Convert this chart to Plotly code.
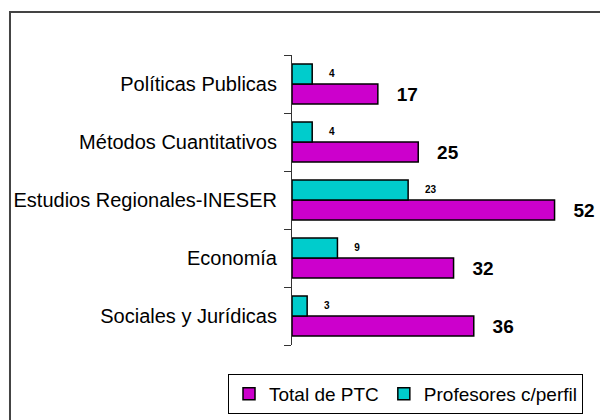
import plotly.graph_objects as go

categories = ["Políticas Publicas", "Métodos Cuantitativos", "Estudios Regionales-INESER",
              "Economía", "Sociales y Jurídicas"]
total_ptc = [17, 25, 52, 32, 36]
profesores_perfil = [4, 4, 23, 9, 3]

FONT = "Arial, Liberation Sans, sans-serif"
NB = "\u00a0"

fig = go.Figure()
fig.add_trace(go.Bar(
    name="Total de PTC", y=categories, x=total_ptc, orientation="h",
    marker=dict(color="#CC00CC", line=dict(color="black", width=1.5)),
    text=total_ptc, texttemplate=NB * 3 + "%{x}", textposition="outside",
    textfont=dict(family=FONT, size=19, color="black", weight="bold"),
    cliponaxis=False, constraintext="none",
))
fig.add_trace(go.Bar(
    name="Profesores c/perfil", y=categories, x=profesores_perfil, orientation="h",
    marker=dict(color="#00CCCC", line=dict(color="black", width=1.5)),
    text=profesores_perfil, texttemplate=NB * 5 + "%{x}", textposition="outside",
    textfont=dict(family=FONT, size=10, color="black", weight="bold"),
    cliponaxis=False, constraintext="none",
))

fig.update_layout(
    width=600, height=420,
    margin=dict(l=292, r=0, t=55, b=75, autoexpand=False),
    barmode="group", bargap=0.31, bargroupgap=0,
    paper_bgcolor="white", plot_bgcolor="white",
    font=dict(family=FONT, color="black"),
    xaxis=dict(range=[0, 61], visible=False, showgrid=False, zeroline=False),
    yaxis=dict(
        categoryorder="array", categoryarray=categories[::-1],
        showline=True, linecolor="#333333", linewidth=1,
        ticks="outside", ticklen=7, tickcolor="#333333", tickson="boundaries",
        tickfont=dict(family=FONT, size=20, color="black"),
        showgrid=False, zeroline=False, ticklabelstandoff=10, automargin=False,
    ),
    legend=dict(
        orientation="h", x=(228 - 292) / 308, xanchor="left",
        y=(345 - 374) / 290, yanchor="top",
        bordercolor="black", borderwidth=1, bgcolor="white",
        font=dict(family=FONT, size=19, color="black"),
        traceorder="normal", itemwidth=30,
    ),
    showlegend=True,
    shapes=[dict(type="rect", xref="paper", yref="paper",
                 x0=-0.9156, x1=1.1, y0=-0.5, y1=1.1483,
                 line=dict(color="#444444", width=2), layer="below")],
)

fig.write_html("out.html", post_script="document.body.style.margin='0';",
               config={"displayModeBar": False})
